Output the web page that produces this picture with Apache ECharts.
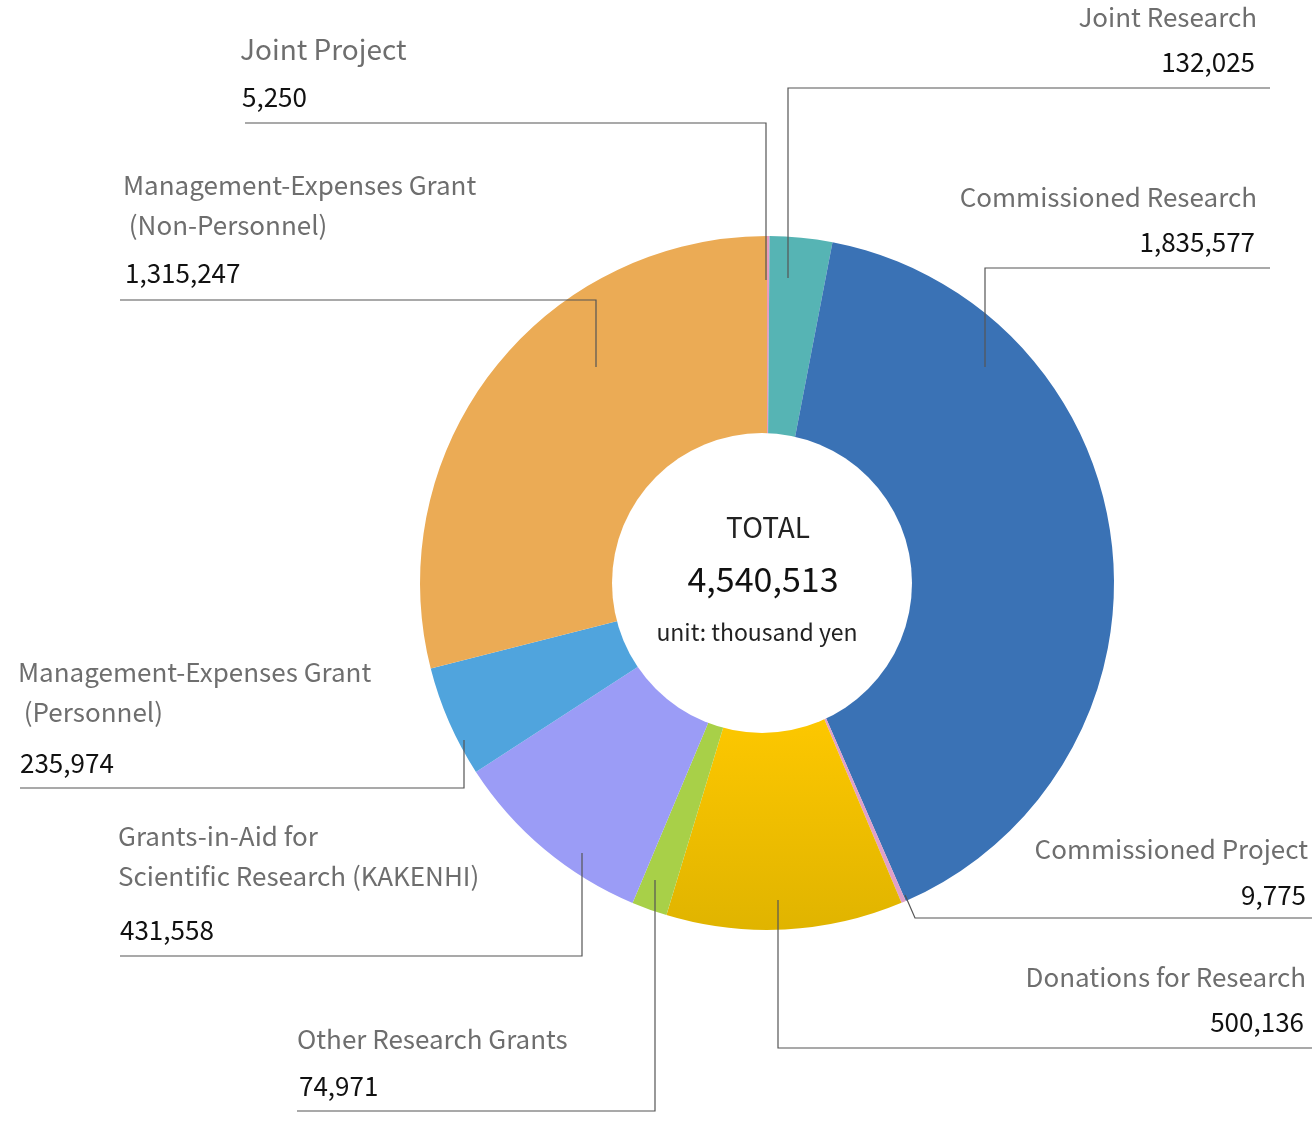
<!DOCTYPE html>
<html><head><meta charset="utf-8">
<script src="https://cdn.jsdelivr.net/npm/echarts@6/dist/echarts.min.js"></script>
<style>html,body{margin:0;background:#fff}#c{width:1312px;height:1137px}</style>
</head><body><div id="c"></div>
<script>
// Data (thousand yen), clockwise from top
const names = ['Joint Project', 'Joint Research', 'Commissioned Research', 'Commissioned Project',
  'Donations for Research', 'Other Research Grants', 'Grants-in-Aid for Scientific Research (KAKENHI)',
  'Management-Expenses Grant (Personnel)', 'Management-Expenses Grant (Non-Personnel)'];
const values = [5250, 132025, 1835577, 9775, 500136, 74971, 431558, 235974, 1315247];
const colors = ['#e89bc0', '#56b4b4', '#3a72b5', '#e0a0c8', null, '#a8d048', '#9b9cf6', '#50a4dd', '#ebab55'];

const total = values.reduce((a, b) => a + b, 0);
const fmt = (v) => v.toLocaleString('en-US');
const FONT = '"Noto Sans CJK JP", "Noto Sans", sans-serif';

const donGrad = new echarts.graphic.LinearGradient(0, 0, 0, 1, [
  { offset: 0, color: '#fec800' }, { offset: 1, color: '#e0b400' }]);

// Label blocks: [lines of name, value index, x, y of first line, align]
const labels = [
  [['Joint Project'], 0, 240, 49, 'left', 28],
  [['Joint Research'], 1, 1257, 17, 'right', 26],
  [['Commissioned Research'], 2, 1257, 197, 'right', 26],
  [['Commissioned Project'], 3, 1308, 849, 'right', 26],
  [['Donations for Research'], 4, 1306, 977, 'right', 26],
  [['Other Research Grants'], 5, 297, 1039, 'left', 26],
  [['Grants-in-Aid for', 'Scientific Research (KAKENHI)'], 6, 118, 836, 'left', 26],
  [['Management-Expenses Grant', ' (Personnel)'], 7, 18, 672, 'left', 26],
  [['Management-Expenses Grant', ' (Non-Personnel)'], 8, 123, 185, 'left', 26]
];
const numY = [97, 62, 242, 895, 1022, 1086, 930, 763, 273];
const leaders = [
  [[245, 123], [766, 123], [766, 280]],
  [[788, 278], [788, 88], [1270, 88]],
  [[985, 367], [985, 268], [1270, 268]],
  [[905, 895], [915, 918], [1312, 918]],
  [[778, 900], [778, 1048], [1312, 1048]],
  [[655, 880], [655, 1111], [297, 1111]],
  [[582, 853], [582, 956], [120, 956]],
  [[464, 740], [464, 788], [20, 788]],
  [[596, 367], [596, 300], [120, 300]]
];

const graphic = [];
labels.forEach(([lines, i, x, y, align, fs]) => {
  lines.forEach((t, k) => graphic.push({ type: 'text', x, y: y + k * 40,
    style: { text: t, fill: '#6e6e6e', font: fs + 'px ' + FONT, textAlign: align, textVerticalAlign: 'middle' } }));
  graphic.push({ type: 'text', x: align === 'left' ? x + 2 : x - 2, y: numY[i],
    style: { text: fmt(values[i]), fill: '#111', font: '26px ' + FONT, textAlign: align, textVerticalAlign: 'middle' } });
});
leaders.forEach((pts) => graphic.push({ type: 'polyline', shape: { points: pts },
  style: { stroke: '#555', lineWidth: 1.2, fill: null }, z: 10 }));
graphic.push({ type: 'circle', shape: { cx: 762, cy: 583, r: 150 }, style: { fill: '#fff' }, z: 5 });
graphic.push({ type: 'text', x: 768, y: 527, z: 6, style: { text: 'TOTAL', fill: '#222', font: '28px ' + FONT, textAlign: 'center', textVerticalAlign: 'middle' } });
graphic.push({ type: 'text', x: 763, y: 579, z: 6, style: { text: fmt(total), fill: '#111', font: '34px ' + FONT, textAlign: 'center', textVerticalAlign: 'middle' } });
graphic.push({ type: 'text', x: 757, y: 632, z: 6, style: { text: 'unit: thousand yen', fill: '#222', font: '23px ' + FONT, textAlign: 'center', textVerticalAlign: 'middle' } });

const chart = echarts.init(document.getElementById('c'), null, { renderer: 'canvas' });
chart.setOption({
  animation: false,
  series: [{
    type: 'pie',
    center: [767, 583],
    radius: [140, 347],
    startAngle: 90,
    clockwise: true,
    label: { show: false },
    labelLine: { show: false },
    itemStyle: { borderColor: '#fff', borderWidth: 0 },
    data: names.map((n, i) => ({ name: n, value: values[i], itemStyle: { color: colors[i] || donGrad } }))
  }],
  graphic
});
</script></body></html>
